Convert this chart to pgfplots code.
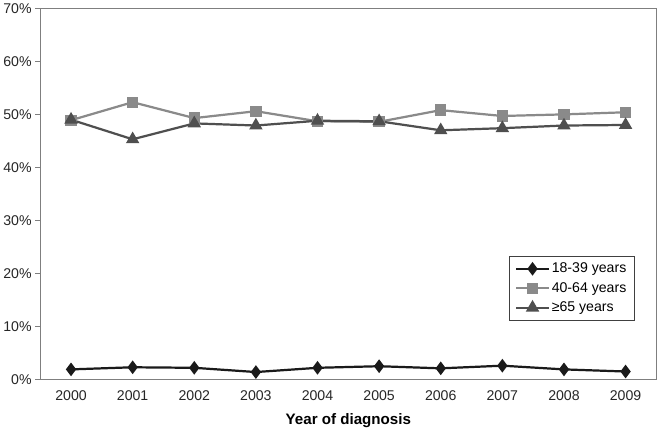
\documentclass[border=0pt]{standalone}
\usepackage{pgfplots}
\pgfplotsset{compat=1.18}
\usepackage{fontspec}
\setmainfont{Liberation Sans}
\definecolor{cA}{HTML}{1A1A1A}
\definecolor{cB}{HTML}{8A8A8A}
\definecolor{cC}{HTML}{4F4F4F}
\definecolor{ax}{HTML}{7F7F7F}
\begin{document}
\begin{tikzpicture}
\begin{axis}[
  scale only axis, width=611pt, height=368pt,
  xmin=-0.5, xmax=9.5, ymin=0, ymax=70,
  xtick={0,...,9},
  xticklabels={2000,2001,2002,2003,2004,2005,2006,2007,2008,2009},
  ytick={0,10,...,70},
  yticklabel={\pgfmathprintnumber{\tick}\%},
  /pgf/number format/assume math mode=true,
  tick label style={font=\fontsize{14}{16}\selectfont, color=black!85},
  xticklabel style={yshift=-3pt},
  axis line style={ax, line width=1.2pt},
  xtick style={draw=none},
  ytick style={ax, line width=1.2pt},
  tick align=outside, major tick length=5pt,
  ytick pos=left,
  xlabel={\textbf{Year of diagnosis}},
  xlabel style={font=\fontsize{15}{17}\selectfont, yshift=-5pt},
  legend style={at={(rel axis cs:0.965,0.158)}, anchor=south east,
    draw=black!75, line width=0.8pt, font=\fontsize{14}{16}\selectfont,
    row sep=4pt, inner xsep=6pt, inner ysep=5pt},
  legend cell align=left,
  legend image code/.code={
    \draw[#1, mark=none] (0pt,0pt) -- (32pt,0pt);
    \draw[#1, only marks] plot coordinates {(16pt,0pt)};
  },
  every axis plot/.append style={line width=2.2pt},
]
\addplot[cA, mark=diamond*, mark size=5pt, mark options={fill=cA, draw=cA}] coordinates {
(0,1.9) (1,2.3) (2,2.2) (3,1.4) (4,2.2) (5,2.5) (6,2.1) (7,2.6) (8,1.9) (9,1.5)};
\addlegendentry{18-39 years}
\addplot[cB, mark=square*, mark size=4.5pt, mark options={fill=cB, draw=cB}] coordinates {
(0,48.9) (1,52.3) (2,49.3) (3,50.6) (4,48.7) (5,48.6) (6,50.8) (7,49.7) (8,50.0) (9,50.4)};
\addlegendentry{40-64 years}
\addplot[cC, mark=triangle*, mark size=5.5pt, mark options={fill=cC, draw=cC}] coordinates {
(0,49.0) (1,45.3) (2,48.3) (3,47.9) (4,48.8) (5,48.7) (6,47.0) (7,47.4) (8,47.9) (9,48.0)};
\addlegendentry{≥65 years}
\end{axis}
\end{tikzpicture}
\end{document}
